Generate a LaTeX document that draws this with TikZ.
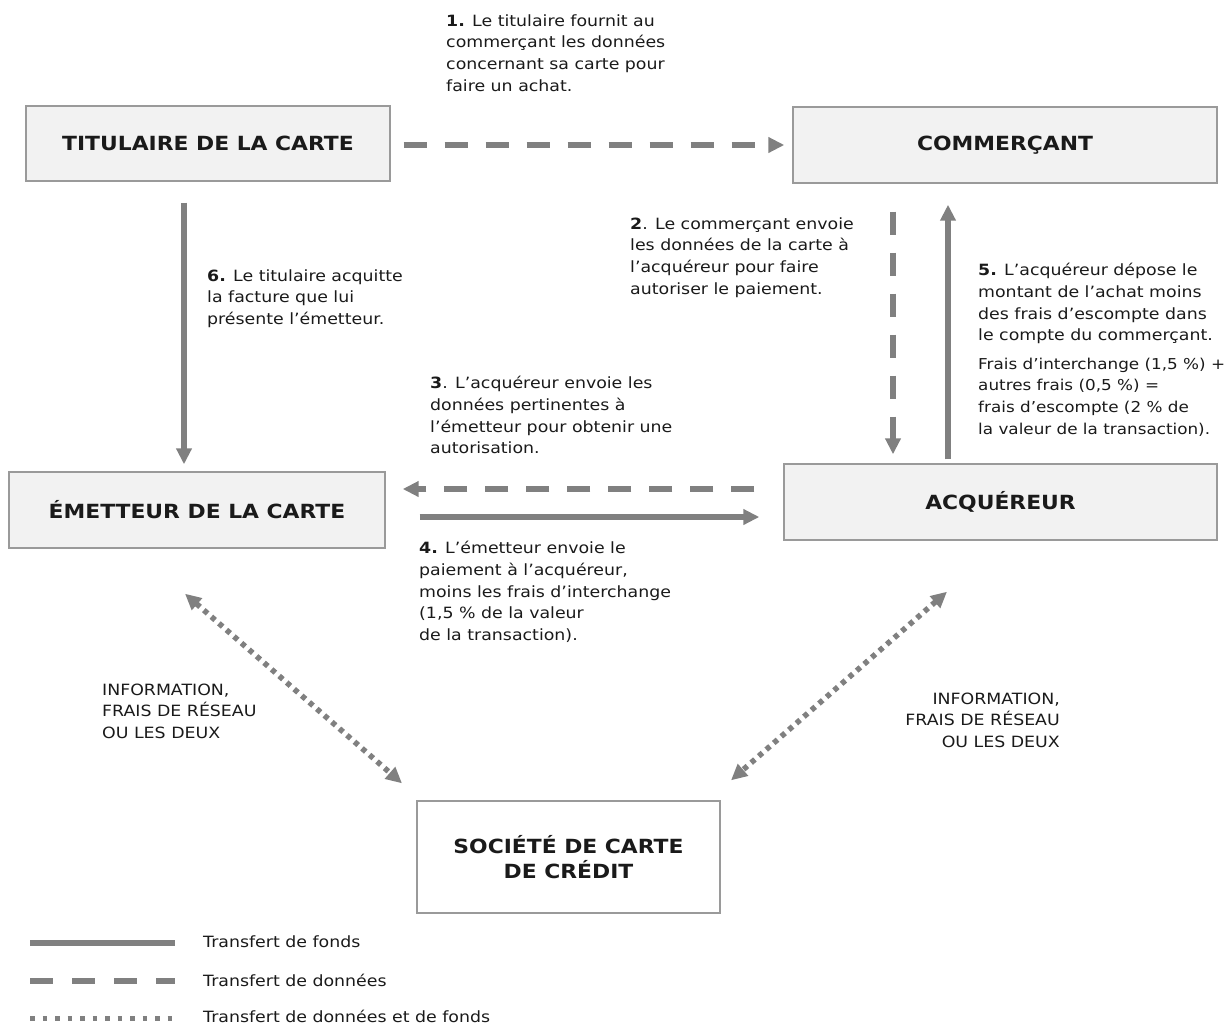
\documentclass[tikz,border=0pt]{standalone}
\usepackage{fontspec}
\setmainfont{DejaVu Sans}[FakeStretch=1.12]
\usetikzlibrary{arrows.meta}
\definecolor{arr}{HTML}{808080}
\definecolor{boxfill}{HTML}{F2F2F2}
\definecolor{boxline}{HTML}{9A9A9A}
\definecolor{txt}{HTML}{1A1A1A}
\newcommand\fl{\rule{0pt}{12pt}}
\begin{document}
\begin{tikzpicture}[x=1pt,y=-1pt,
  box/.style={draw=boxline, fill=boxfill, line width=1.4pt, inner sep=0pt,
    text=txt, font=\fontsize{19.5}{25}\selectfont\bfseries, align=center},
  lbl/.style={anchor=north west, inner sep=0pt, align=left, text=txt,
    font=\fontsize{15.5}{21.7}\selectfont},
  lblr/.style={lbl, anchor=north east, align=right},
  tip/.tip={Triangle[length=16pt,width=15pt]},
  funds/.style={draw=arr, line width=5.5pt, -{tip}},
  data/.style={funds, dash pattern=on 23pt off 18pt},
  both/.style={draw=arr, line width=5.5pt, dash pattern=on 5pt off 5pt, {tip}-{tip}},
  legfunds/.style={draw=arr, line width=5.5pt},
  legdata/.style={draw=arr, line width=5.5pt, dash pattern=on 23pt off 19pt},
  legboth/.style={draw=arr, line width=5pt, dash pattern=on 4.5pt off 8pt},
  legtxt/.style={anchor=west, inner sep=0pt, text=txt, font=\fontsize{15.5}{18}\selectfont}
]
\useasboundingbox (0,0) rectangle (1230,1026);

% boxes
\node[box, minimum width=364pt, minimum height=75pt] (tit) at (208,143.5) {TITULAIRE DE LA CARTE};
\node[box, minimum width=424pt, minimum height=76pt] (com) at (1005,145) {COMMERÇANT};
\node[box, minimum width=376pt, minimum height=76pt] (emi) at (197,510) {ÉMETTEUR DE LA CARTE};
\node[box, minimum width=433pt, minimum height=76pt] (acq) at (1000.5,502) {ACQUÉREUR};
\node[box, fill=white, minimum width=303pt, minimum height=112pt] (soc) at (568.5,857) {SOCIÉTÉ DE CARTE\\DE CRÉDIT};

% connectors
\draw[data] ([shift={(13,1.5)}]tit.east) -- ([shift={(-8,0)}]com.west);
\draw[funds] ([shift={(-24,21)}]tit.south) -- ([shift={(-13,-7)}]emi.north);
\draw[data] ([shift={(-112,28)}]com.south) -- ([shift={(-107.5,-9)}]acq.north);
\draw[funds] ([shift={(-52.5,-4)}]acq.north) -- ([shift={(-57,21)}]com.south);
\draw[data] ([shift={(-29,-13)}]acq.west) -- ([shift={(17,-21)}]emi.east);
\draw[funds] ([shift={(34,7)}]emi.east) -- ([shift={(-24,15)}]acq.west);
\draw[both] ([shift={(-12,45)}]emi.south) -- ([shift={(-166.5,-17)}]soc.north);
\draw[both] ([shift={(-53.5,51)}]acq.south) -- ([shift={(162.5,-20)}]soc.north);

% labels
\node[lbl] (t1) at (446,14) {\fl\textbf{1.} Le titulaire fournit au\\commerçant les données\\concernant sa carte pour\\faire un achat.};
\node[lbl] (t2) at (630,217) {\fl\textbf{2}. Le commerçant envoie\\les données de la carte à\\l’acquéreur pour faire\\autoriser le paiement.};
\node[lbl] (t6) at (207,269) {\fl\textbf{6.} Le titulaire acquitte\\la facture que lui\\présente l’émetteur.};
\node[lbl] (t5) at (978,263) {\fl\textbf{5.} L’acquéreur dépose le\\montant de l’achat moins\\des frais d’escompte dans\\le compte du commerçant.};
\node[lbl, font=\fontsize{15}{21.7}\selectfont] (t5b) at (978,357) {\fl Frais d’interchange (1,5 \%) +\\autres frais (0,5 \%) =\\frais d’escompte (2 \% de\\la valeur de la transaction).};
\node[lbl] (t3) at (430,376) {\fl\textbf{3}. L’acquéreur envoie les\\données pertinentes à\\l’émetteur pour obtenir une\\autorisation.};
\node[lbl] (t4) at (419,541) {\fl\textbf{4.} L’émetteur envoie le\\paiement à l’acquéreur,\\moins les frais d’interchange\\(1,5 \% de la valeur\\de la transaction).};
\node[lbl] (il) at (102,683) {\fl INFORMATION,\\FRAIS DE RÉSEAU\\OU LES DEUX};
\node[lblr] (ir) at (1060,692) {\fl INFORMATION,\\FRAIS DE RÉSEAU\\OU LES DEUX};

% legend
\coordinate (la1) at (30,943); \coordinate (lb1) at (175,943);
\coordinate (la2) at (30,981); \coordinate (lb2) at (175,981);
\coordinate (la3) at (30,1018); \coordinate (lb3) at (172,1018);
\draw[legfunds] (la1) -- (lb1);
\draw[legdata] (la2) -- (lb2);
\draw[legboth] (la3) -- (lb3);
\node[legtxt] (g1) at (203,942) {Transfert de fonds};
\node[legtxt] (g2) at (203,980) {Transfert de données};
\node[legtxt] (g3) at (203,1016) {Transfert de données et de fonds};
\end{tikzpicture}
\end{document}
